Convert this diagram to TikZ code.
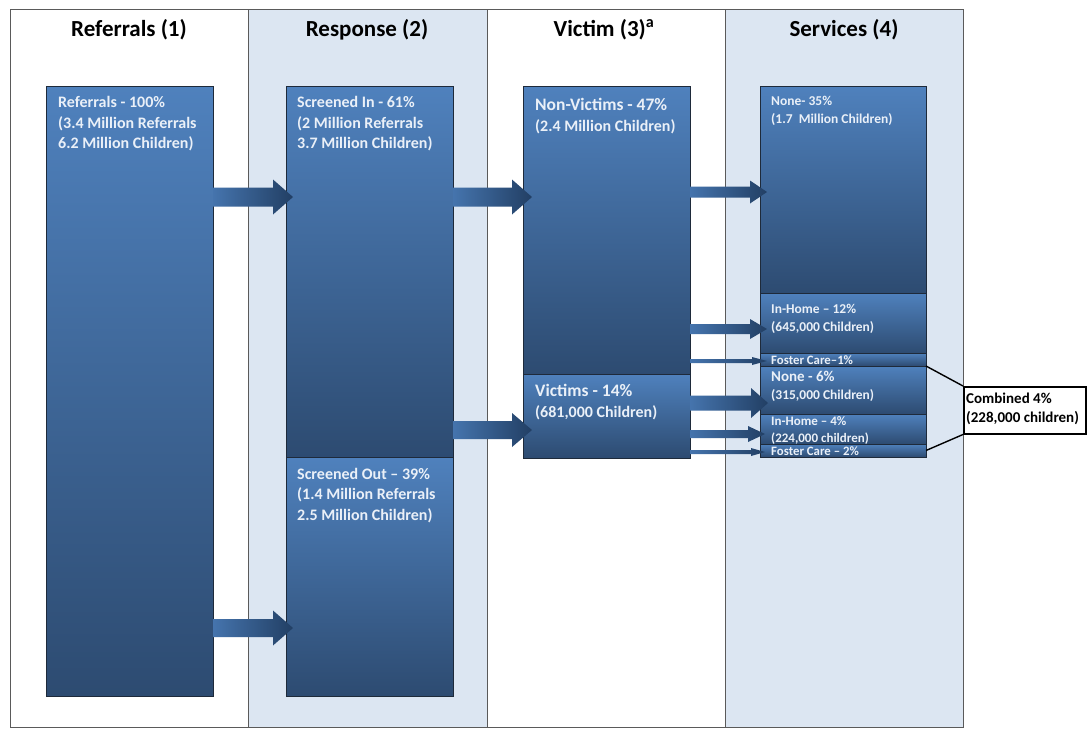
\documentclass[tikz,border=0pt]{standalone}
\usepackage{fontspec}
\setmainfont{Carlito}
\usetikzlibrary{calc}
\definecolor{colbg}{HTML}{DCE6F2}
\definecolor{btop}{HTML}{4F81BD}
\definecolor{bmid}{HTML}{3F689D}
\definecolor{bbot}{HTML}{2D4B71}
\definecolor{bline}{HTML}{1E2A3A}
\definecolor{btxt}{HTML}{EAF0F8}
\definecolor{aleft}{HTML}{4574AD}
\definecolor{aright}{HTML}{223F64}
\definecolor{framec}{HTML}{5A5A5A}
\newcommand{\barr}[5]{%
  \path[arrowfill] ($(#1)+(0,-#3)$) -- ($(#2)+(-#5,-#3)$) -- ($(#2)+(-#5,-#4)$) -- (#2)
    -- ($(#2)+(-#5,#4)$) -- ($(#2)+(-#5,#3)$) -- ($(#1)+(0,#3)$) -- cycle;}
\begin{document}
\begin{tikzpicture}[x=1pt,y=-1pt,
  box/.style={draw=bline, line width=0.8pt, top color=btop, middle color=bmid, bottom color=bbot,
    anchor=north west, inner sep=0pt, outer sep=0pt},
  arrowfill/.style={left color=aleft, right color=aright, draw=none},
  head/.style={font=\fontsize{23}{27}\selectfont\bfseries, inner sep=0pt},
  bigtxt/.style={font=\fontsize{16}{20.5}\selectfont\bfseries, text=btxt, align=left, anchor=north west, inner sep=0pt},
  smalltxt/.style={font=\fontsize{13.5}{17.5}\selectfont\bfseries, text=btxt, align=left, anchor=north west, inner sep=0pt},
  tinytxt/.style={font=\fontsize{12.8}{13}\selectfont\bfseries, text=btxt, anchor=west, inner sep=0pt},
  combtxt/.style={font=\fontsize{15}{19.5}\selectfont\bfseries, text=black, align=left, anchor=north west, inner sep=0pt}
]
\useasboundingbox (0,0) rectangle (1090,729);
\fill[white] (0,0) rectangle (1090,729);
% columns
\fill[colbg] (248,9) rectangle (487,727);
\fill[colbg] (725,9) rectangle (963,727);
\draw[framec, line width=1pt] (10,9) rectangle (963,727);
\draw[framec, line width=1pt] (248,9) -- (248,727);
\draw[framec, line width=1pt] (487,9) -- (487,727);
\draw[framec, line width=1pt] (725,9) -- (725,727);
% headings
\node[head] (h1) at (129,30) {Referrals (1)};
\node[head] (h2) at (367,30) {Response (2)};
\node[head] (h3) at (604,30) {Victim (3)\textsuperscript{a}};
\node[head] (h4) at (844,30) {Services (4)};
% boxes
\node[box, minimum width=167pt, minimum height=610pt] (ref) at (46,86) {};
\node[box, minimum width=167pt, minimum height=371pt] (sin) at (286,86) {};
\node[box, minimum width=167pt, minimum height=239pt] (sout) at (286,457) {};
\node[box, minimum width=167pt, minimum height=288pt] (nv) at (523,86) {};
\node[box, minimum width=167pt, minimum height=84pt] (vic) at (523,374) {};
\node[box, minimum width=166pt, minimum height=207pt] (n35) at (760,86) {};
\node[box, minimum width=166pt, minimum height=60pt] (ih12) at (760,293) {};
\node[box, minimum width=166pt, minimum height=13pt] (fc1) at (760,353) {};
\node[box, minimum width=166pt, minimum height=48pt] (n6) at (760,366) {};
\node[box, minimum width=166pt, minimum height=30pt] (ih4) at (760,414) {};
\node[box, minimum width=166pt, minimum height=13pt] (fc2) at (760,444) {};
% texts
\node[bigtxt] (tref) at (58,96.5) {Referrals - 100\%\\(3.4 Million Referrals\\6.2 Million Children)};
\node[bigtxt] (tsin) at (297,96.5) {Screened In - 61\%\\(2 Million Referrals\\3.7 Million Children)};
\node[bigtxt] (tsout) at (297,468) {Screened Out -- 39\%\\(1.4 Million Referrals\\2.5 Million Children)};
\node[bigtxt, font=\fontsize{17.5}{21}\selectfont\bfseries] (tnv) at (535,98) {Non-Victims - 47\%};
\node[bigtxt] (tnv2) at (535,119.5) {(2.4 Million Children)};
\node[bigtxt, font=\fontsize{17.5}{21}\selectfont\bfseries] (tvic) at (535,384) {Victims - 14\%};
\node[bigtxt] (tvic2) at (535,405.5) {(681,000 Children)};
\node[smalltxt] (tn35) at (771,96) {None- 35\%\\(1.7~ Million Children)};
\node[smalltxt] (tih12) at (771,304) {In-Home -- 12\%\\(645,000 Children)};
\node[tinytxt] (tfc1) at (771,360.5) {Foster Care--1\%};
\node[smalltxt, font=\fontsize{15}{18}\selectfont\bfseries] (tn6) at (771,371) {None - 6\%};
\node[smalltxt] (tn62) at (771,389) {(315,000 Children)};
\node[smalltxt, font=\fontsize{13}{16.5}\selectfont\bfseries] (tih4) at (771,416.5) {In-Home -- 4\%\\(224,000 children)};
\node[tinytxt] (tfc2) at (771,451.5) {Foster Care -- 2\%};
% combined box
\node[draw=black, line width=1.5pt, fill=white, anchor=north west, minimum width=122pt, minimum height=47pt, inner sep=0pt] (comb) at (963,386) {};
\node[combtxt] (tcomb) at (966,392.5) {Combined 4\%\\(228,000 children)};
\draw[black, line width=1.4pt] (fc1.south east) -- (comb.north west);
\draw[black, line width=1.4pt] (fc2.east) -- (comb.south west);
% arrows
\coordinate (a1s) at (ref.east |- 0,197); \coordinate (a1t) at ($(sin.west |- 0,197)+(7,0)$);
\coordinate (a2s) at (sin.east |- 0,197); \coordinate (a2t) at ($(nv.west |- 0,197)+(9,0)$);
\coordinate (a3s) at (ref.east |- 0,628); \coordinate (a3t) at ($(sout.west |- 0,628)+(7,0)$);
\coordinate (a4s) at (sin.east |- 0,430); \coordinate (a4t) at ($(vic.west |- 0,430)+(9,0)$);
\coordinate (a5s) at (nv.east |- 0,192); \coordinate (a5t) at ($(n35.west |- 0,192)+(7,0)$);
\coordinate (a6s) at (nv.east |- 0,329); \coordinate (a6t) at ($(ih12.west |- 0,329)+(7,0)$);
\coordinate (a7s) at (nv.east |- 0,361); \coordinate (a7t) at ($(fc1.west |- 0,361)+(7,0)$);
\coordinate (a8s) at (vic.east |- 0,403); \coordinate (a8t) at ($(n6.west |- 0,403)+(8,0)$);
\coordinate (a9s) at (vic.east |- 0,434); \coordinate (a9t) at ($(ih4.west |- 0,434)+(5,0)$);
\coordinate (a10s) at (vic.east |- 0,452); \coordinate (a10t) at ($(fc2.west |- 0,452)+(5,0)$);
\barr{a1s}{a1t}{9.5}{17.5}{20}
\barr{a2s}{a2t}{9.5}{17.5}{20}
\barr{a3s}{a3t}{9}{17.5}{20}
\barr{a4s}{a4t}{9}{17}{20}
\barr{a5s}{a5t}{5.5}{11.5}{17}
\barr{a6s}{a6t}{5}{10}{17}
\barr{a7s}{a7t}{2}{4}{15}
\barr{a8s}{a8t}{7.5}{15}{17}
\barr{a9s}{a9t}{4}{8}{17}
\barr{a10s}{a10t}{2}{4}{14}
\end{tikzpicture}
\end{document}
